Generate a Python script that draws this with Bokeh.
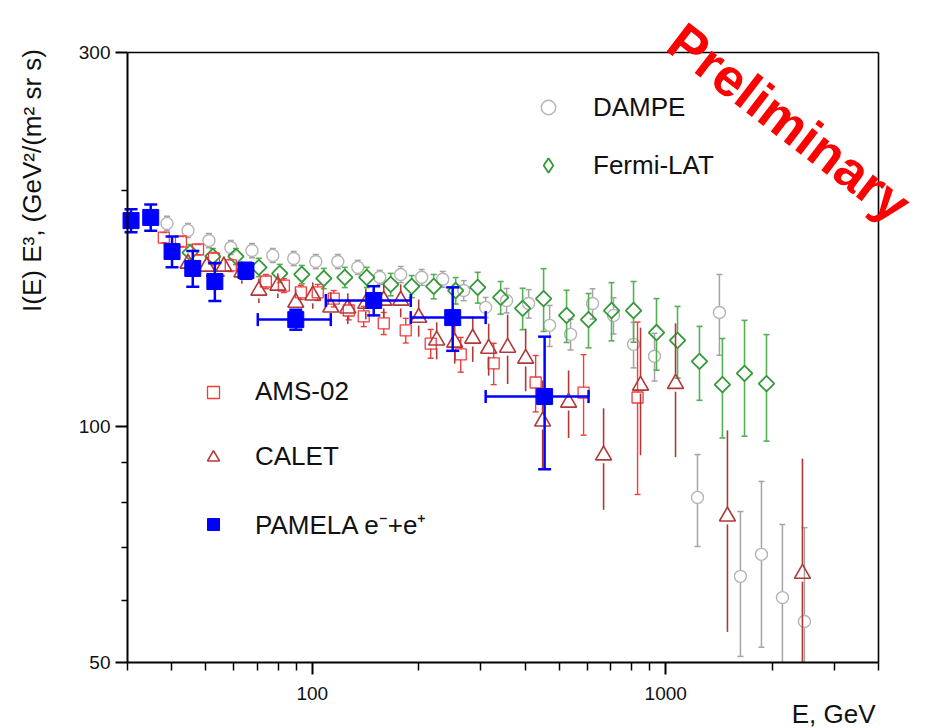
import numpy as np
from bokeh.plotting import figure
from bokeh.models import Range1d, FixedTicker, PrintfTickFormatter, Legend, LegendItem, Label
from bokeh.embed import file_html
from bokeh.resources import INLINE

# ---------------- data ----------------
dampe_e = [38.8, 44.5, 51.0, 58.8, 67.5, 77.3, 88.6, 102.3, 118.1, 134.5, 155.2, 177.9, 204.0, 233.9,
           268.2, 309.4, 354.6, 409.4, 469.4, 538.0, 620.9, 711.8, 810.9, 929.6, 1230, 1419, 1627,
           1866, 2139, 2469]
dampe_v = [181.6, 177.9, 172.7, 169.2, 167.7, 165.3, 163.8, 162.4, 162.4, 159.6, 155.0, 156.3, 155.0,
           154.1, 149.1, 141.9, 144.8, 143.5, 134.6, 131.1, 143.5, 138.6, 127.3, 122.9, 81.2, 139.8,
           64.4, 68.7, 60.5, 56.4]
dampe_err = [3.8, 3.7, 3.6, 3.5, 3.5, 3.4, 3.4, 3.4, 3.4, 3.3, 3.2, 3.7, 3.6, 3.6, 4.4, 4.2, 5.2, 6.0,
             8.1, 5.9, 6.4, 7.4, 8.5, 8.6, 10.9, 16.5, 13.5, 16.4, 14.5, 17.9]

fermi_e = [45.1, 52.3, 60.8, 70.6, 80.9, 93.4, 107.8, 123.6, 142.6, 166.7, 191.1, 220.6, 254.5, 293.8,
           341.2, 393.7, 451.3, 524.2, 604.8, 702.6, 810.9, 941.7, 1080, 1246, 1447, 1671, 1928]
fermi_v = [166.7, 164.8, 164.8, 159.6, 156.8, 156.3, 154.5, 155.0, 155.0, 151.8, 150.9, 150.9, 149.1,
           150.5, 146.1, 141.5, 145.6, 138.6, 136.9, 140.6, 140.6, 131.8, 128.8, 121.1, 113.1, 116.9, 113.4]
fermi_err = [4.0, 3.9, 3.9, 4.3, 4.2, 4.2, 4.6, 4.6, 4.6, 5.0, 4.9, 5.4, 5.8, 6.8, 7.0, 8.6, 13.4, 10.6,
             10.9, 12.0, 12.5, 13.8, 13.5, 13.1, 16.4, 19.7, 17.6]

ams_e = [38.0, 42.5, 47.5, 52.7, 58.8, 65.7, 73.9, 83.1, 92.8, 103.6, 115.0, 126.8, 139.8, 159.3,
         183.8, 216.3, 263.0, 326.0, 428.5, 585.6, 832.4]
ams_v = [174.2, 172.2, 168.2, 163.8, 160.5, 157.3, 153.1, 151.3, 148.3, 148.3, 145.6, 140.6, 138.2,
         135.4, 132.6, 127.6, 123.6, 120.4, 113.8, 110.5, 108.9]
ams_err = [2.6, 2.5, 2.5, 2.9, 2.9, 2.8, 3.2, 3.1, 3.1, 3.5, 3.5, 3.8, 4.1, 4.4, 4.8, 5.4, 6.3, 7.3,
           9.4, 13.0, 27.0]

calet_e = [44.5, 50.3, 56.2, 63.2, 70.6, 79.9, 89.8, 100.3, 112.8, 126.0, 141.7, 159.3, 177.9, 200.0,
           224.9, 252.9, 284.4, 315.5, 357.0, 401.5, 448.4, 531.1, 667.1, 848.7, 1066, 1495, 2437]
calet_v = [161.4, 160.0, 160.0, 157.3, 149.1, 151.3, 143.9, 147.0, 141.9, 141.5, 143.5, 144.8, 144.8,
           137.7, 128.8, 128.0, 129.5, 125.7, 126.1, 122.1, 101.5, 107.3, 91.9, 112.8, 113.4, 76.8, 64.9]
calet_err = [4.8, 4.8, 4.8, 5.2, 5.4, 5.4, 5.6, 5.7, 6.4, 6.4, 6.5, 7.0, 7.0, 7.5, 7.0, 7.7, 8.6, 9.6,
             12.8, 11.2, 13.0, 10.6, 13.6, 20.9, 22.0, 22.1, 26.1]

pamela_e = [30.7, 34.9, 40.1, 45.9, 53.0, 64.9, 89.8, 149.2, 249.6, 454.3]
pamela_v = [183.1, 184.8, 167.2, 159.1, 153.1, 158.1, 136.9, 144.8, 137.7, 109.2]
pamela_err = [6.2, 7.1, 7.5, 8.3, 8.5, 3.7, 4.0, 6.2, 12.8, 21.0]
nan = float("nan")
pamela_e_lo = [nan, nan, nan, nan, nan, nan, 70.1, 109.2, 189.9, 309.4]
pamela_e_hi = [nan, nan, nan, nan, nan, nan, 112.8, 189.9, 309.4, 604.8]

x_lim = (30, 4000)
y_lim = (50, 300)
x_major = [100, 1000]
x_minor = [30, 40, 50, 60, 70, 80, 90, 200, 300, 400, 500, 600, 700, 800, 900, 2000, 3000, 4000]
y_major = [50, 100, 300]
y_minor = [60, 70, 80, 90, 200]

# ---------------- layout geometry (pixels) ----------------
W, H = 931, 728
BOX_L, BOX_R, BOX_T, BOX_B = 127, 878, 52, 662   # where the axes box sits on the page
dex_x = np.log10(x_lim[1] / x_lim[0]) / (BOX_R - BOX_L)
dex_y = np.log10(y_lim[1] / y_lim[0]) / (BOX_B - BOX_T)
x_start = 10 ** (np.log10(x_lim[0]) - BOX_L * dex_x)
x_end = 10 ** (np.log10(x_lim[1]) + (W - BOX_R) * dex_x)
y_start = 10 ** (np.log10(y_lim[0]) - (H - BOX_B) * dex_y)
y_end = 10 ** (np.log10(y_lim[1]) + BOX_T * dex_y)

# ---------------- styling ----------------
FONT = "Liberation Sans"
DAMPE_C, DAMPE_EC = "#b4b4b4", "#a4a4a4"
FERMI_C, FERMI_EC = "#35993a", "#55b055"
AMS_C = "#f23c3c"
CALET_C = "#b03838"
PAMELA_C = "#0000ff"
TXT = "#111111"

p = figure(width=W, height=H, x_axis_type="log", y_axis_type="log",
           x_range=Range1d(x_start, x_end), y_range=Range1d(y_start, y_end), title=None,
           output_backend="svg", toolbar_location=None,
           min_border_left=0, min_border_right=0, min_border_top=0, min_border_bottom=0)
p.background_fill_color = "white"
p.border_fill_color = "white"
p.xgrid.visible = False
p.ygrid.visible = False
p.outline_line_color = None

# top and right edges of the box
p.segment([x_lim[0], x_lim[1]], [y_lim[1], y_lim[0]], [x_lim[1], x_lim[1]], [y_lim[1], y_lim[1]],
          line_color="black", line_width=1.6)


def errbars(e, v, err, color, r_px, cap, width):
    e = np.asarray(e, float)
    v = np.asarray(v, float)
    s = np.asarray(err, float)
    up, lo_raw = v + s, v - s
    lo = np.maximum(lo_raw, y_lim[0])
    g = 10 ** (r_px * dex_y)
    top0 = np.minimum(v * g, up)
    bot0 = np.maximum(v / g, lo)
    p.segment(e, top0, e, up, line_color=color, line_width=width)
    p.segment(e, lo, e, bot0, line_color=color, line_width=width)
    if cap:
        keep = lo_raw >= y_lim[0]
        p.scatter(np.r_[e, e[keep]], np.r_[up, lo[keep]], marker="dash", size=cap,
                  line_color=color, line_width=width)


errbars(dampe_e, dampe_v, dampe_err, DAMPE_EC, 6, 6, 1.5)
r_dampe = p.scatter(dampe_e, dampe_v, marker="circle", size=12, fill_alpha=0,
                    line_color=DAMPE_C, line_width=1.4)

errbars(fermi_e, fermi_v, fermi_err, FERMI_EC, 7, 6, 1.6)
p.scatter(fermi_e, fermi_v, marker="square", angle=np.pi / 4, size=11, fill_alpha=0,
          line_color=FERMI_C, line_width=1.8)

errbars(ams_e, ams_v, ams_err, AMS_C, 5, 6, 1.4)
r_ams = p.scatter(ams_e, ams_v, marker="square", size=11, fill_alpha=0,
                  line_color=AMS_C, line_width=1.3)

errbars(calet_e, calet_v, calet_err, CALET_C, 8, 0, 1.6)
r_calet = p.scatter(calet_e, calet_v, marker="triangle", size=16, fill_alpha=0,
                    line_color=CALET_C, line_width=1.6)

pe = np.asarray(pamela_e, float)
pv = np.asarray(pamela_v, float)
ps = np.asarray(pamela_err, float)
p.segment(pe, pv - ps, pe, pv + ps, line_color=PAMELA_C, line_width=2.5)
p.scatter(np.r_[pe, pe], np.r_[pv + ps, pv - ps], marker="dash", size=13,
          line_color=PAMELA_C, line_width=2.5)
plo = np.asarray(pamela_e_lo, float)
phi = np.asarray(pamela_e_hi, float)
p.segment(plo, pv, phi, pv, line_color=PAMELA_C, line_width=2.5)
p.scatter(np.r_[plo, phi], np.r_[pv, pv], marker="dash", angle=np.pi / 2, size=13,
          line_color=PAMELA_C, line_width=2.5)
r_pamela = p.scatter(pamela_e, pamela_v, marker="square", size=16,
                     fill_color=PAMELA_C, line_color=PAMELA_C)

# legend-only glyph for the diamond (the legend does not rotate markers)
lg_fermi = p.scatter([nan], [nan], marker="diamond", size=14, fill_alpha=0,
                     line_color=FERMI_C, line_width=1.8)

# ---------------- axes ----------------
p.xaxis.fixed_location = y_lim[0]
p.yaxis.fixed_location = x_lim[0]
p.xaxis.bounds = x_lim
p.yaxis.bounds = y_lim
p.xaxis.ticker = FixedTicker(ticks=x_major, minor_ticks=x_minor)
p.yaxis.ticker = FixedTicker(ticks=y_major, minor_ticks=y_minor)
for ax in (p.xaxis, p.yaxis):
    ax.formatter = PrintfTickFormatter(format="%d")
    ax.axis_line_width = 2
    ax.axis_line_color = "black"
    ax.major_tick_line_width = 2
    ax.minor_tick_line_width = 1.5
    ax.major_tick_in = 0
    ax.minor_tick_in = 0
    ax.major_tick_out = 12
    ax.major_label_text_font = FONT
    ax.major_label_text_font_size = "19px"
    ax.major_label_text_color = TXT
p.xaxis.minor_tick_out = 8
p.yaxis.minor_tick_out = 6
p.xaxis.major_label_standoff = 12
p.yaxis.major_label_standoff = 5

# ---------------- legends ----------------
leg_style = dict(orientation="vertical",
                 padding=0, margin=0, background_fill_alpha=0, border_line_alpha=0,
                 label_text_font=FONT, label_text_font_size="26px", label_text_color=TXT)
leg1 = Legend(items=[LegendItem(label="DAMPE", renderers=[r_dampe]),
                     LegendItem(label="Fermi-LAT", renderers=[lg_fermi])],
              location=(530, 545), glyph_width=36, glyph_height=36, spacing=22,
              label_standoff=27, **leg_style)
leg2 = Legend(items=[LegendItem(label="AMS-02", renderers=[r_ams]),
                     LegendItem(label="CALET", renderers=[r_calet]),
                     LegendItem(label="PAMELA e\u207b+e\u207a", renderers=[r_pamela])],
              location=(198, 186), glyph_width=30, glyph_height=30, spacing=34,
              label_standoff=27, **leg_style)
p.add_layout(leg1, "center")
p.add_layout(leg2, "center")

# ---------------- texts ----------------
p.add_layout(Label(x=31, y=H - 180, x_units="screen", y_units="screen",
                   text="I(E) E\u00b3, (GeV\u00b2/(m\u00b2 sr s)", angle=90, angle_units="deg",
                   text_align="center", text_baseline="middle",
                   text_font=FONT, text_font_size="26px", text_color=TXT))
p.add_layout(Label(x=875, y=H - 713, x_units="screen", y_units="screen", text="E, GeV",
                   text_align="right", text_baseline="middle",
                   text_font=FONT, text_font_size="26px", text_color=TXT))
p.add_layout(Label(x=789, y=H - 122, x_units="screen", y_units="screen", text="Preliminary",
                   angle=-37.5, angle_units="deg", text_align="center", text_baseline="middle",
                   text_font=FONT, text_font_style="bold", text_font_size="53px",
                   text_color="#ff0000"))

open("out.html", "w").write(file_html(p, INLINE))
